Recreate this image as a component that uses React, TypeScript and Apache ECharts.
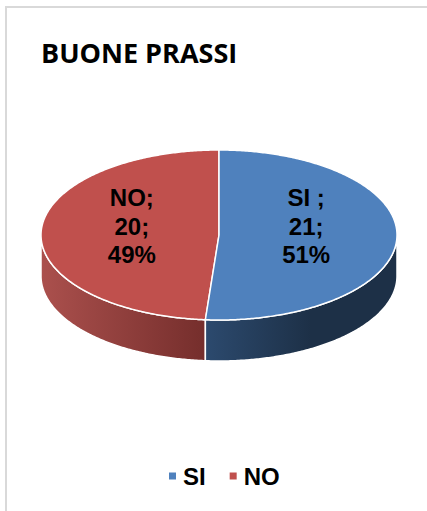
import React, { useEffect, useRef } from "react";
import * as echarts from "echarts";

const titleText = "BUONE PRASSI";
const categories = ["SI", "NO"];
const labelNames = ["SI ;", "NO;"];
const values = [21, 20];
const topColors = ["#4f81bd", "#c0504d"];
const wallStops = [
  ["#2c4a6e", "#1d3047"],
  ["#ab504d", "#752e2c"],
];

const total = values.reduce((a, b) => a + b, 0);
const cx = 219, cy = 235, rx = 178, ry = 85, depth = 41;
const LABEL_R = 0.49, LABEL_DY = -9;

const pt = (t: number, dy = 0): number[] => [
  cx + rx * Math.sin(t),
  cy - ry * Math.cos(t) + dy,
];

function arcPoints(a: number, b: number, dy = 0): number[][] {
  const n = Math.max(2, Math.ceil(Math.abs(b - a) / 0.01));
  const out: number[][] = [];
  for (let i = 0; i <= n; i++) out.push(pt(a + ((b - a) * i) / n, dy));
  return out;
}

function makeSeries(index: number) {
  const before = values.slice(0, index).reduce((a, b) => a + b, 0);
  return {
    type: "custom",
    name: categories[index],
    coordinateSystem: "none",
    itemStyle: { color: topColors[index] },
    silent: true,
    data: [[values[index]]],
    renderItem: (_p: any, api: any) => {
      const v = api.value(0) as number;
      const a = (before / total) * Math.PI * 2;
      const b = ((before + v) / total) * Math.PI * 2;
      const children: any[] = [];
      const wa = Math.max(a, Math.PI / 2);
      const wb = Math.min(b, (Math.PI * 3) / 2);
      if (wb > wa) {
        const front = arcPoints(wa, wb);
        const back = arcPoints(wb, wa, depth);
        children.push({
          type: "polygon",
          shape: { points: [...front, ...back] },
          style: {
            fill: {
              type: "linear",
              x: 0, y: 0, x2: 1, y2: 0,
              colorStops: index === 0
                ? [{ offset: 0, color: wallStops[0][0] }, { offset: 0.55, color: wallStops[0][1] }, { offset: 1, color: wallStops[0][1] }]
                : [{ offset: 0, color: wallStops[1][0] }, { offset: 1, color: wallStops[1][1] }],
            },
            stroke: "#ffffff",
            lineWidth: 1.5,
          },
        });
      }
      children.push({
        type: "polygon",
        shape: { points: [[cx, cy], ...arcPoints(a, b)] },
        style: { fill: topColors[index], stroke: "#ffffff", lineWidth: 1.5 },
      });
      const mid = (a + b) / 2;
      const pct = Math.round((v / total) * 100);
      children.push({
        type: "text",
        x: cx + rx * LABEL_R * Math.sin(mid),
        y: cy + LABEL_DY,
        style: {
          text: `${labelNames[index]}\n${v};\n${pct}%`,
          font: 'bold 24px "Liberation Sans"',
          fill: "#000000",
          align: "center",
          verticalAlign: "middle",
          lineHeight: 28.5,
        },
      });
      return { type: "group", children };
    },
  };
}

export default function App() {
  const ref = useRef<HTMLDivElement>(null);
  useEffect(() => {
    const chart = echarts.init(ref.current!, null, { renderer: "svg" });
    chart.setOption({
      animation: false,
      backgroundColor: "#ffffff",
      title: {
        text: titleText,
        left: 41,
        top: 39,
        padding: 0,
        textStyle: {
          fontFamily: '"Open Sans"',
          fontWeight: "bold",
          fontSize: 27,
          color: "#000000",
        },
      },
      legend: {
        data: categories,
        left: 169,
        top: 464,
        padding: 0,
        icon: "rect",
        itemWidth: 7,
        itemHeight: 7,
        itemGap: 24,
        textStyle: {
          fontFamily: '"Liberation Sans"',
          fontWeight: "bold",
          fontSize: 24,
          color: "#000000",
          padding: [0, 0, 0, 2],
        },
      },
      graphic: [
        { type: "rect", silent: true, shape: { x: 5, y: 6, width: 2, height: 505 }, style: { fill: "#d9d9d9" } },
        { type: "rect", silent: true, shape: { x: 5, y: 6, width: 422, height: 2 }, style: { fill: "#d9d9d9" } },
      ],
      series: [makeSeries(1), makeSeries(0)],
    });
    return () => chart.dispose();
  }, []);
  return <div ref={ref} style={{ position: "fixed", left: 0, top: 0, width: 427, height: 511 }} />;
}
